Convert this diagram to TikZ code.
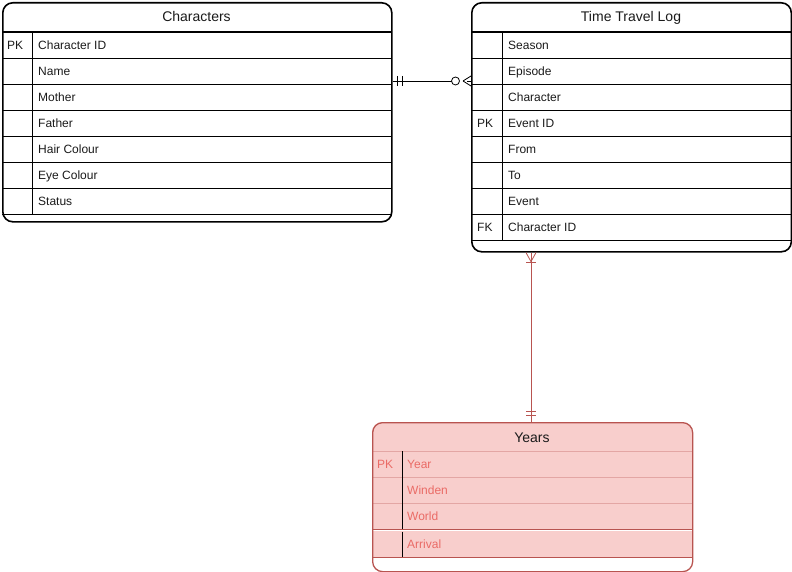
\documentclass[tikz,border=0pt]{standalone}
\usepackage{fontspec}
\setmainfont{Liberation Sans}
\usetikzlibrary{calc}
\definecolor{pinkfill}{HTML}{F8CECC}
\definecolor{redstroke}{HTML}{B85450}
\definecolor{redtext}{HTML}{EA6B66}
\definecolor{pinkline}{HTML}{E3A6A4}
\definecolor{ink}{HTML}{1A1A1A}
\tikzset{
  tableframe/.style={draw=black, line width=1.6pt, rounded corners=10pt, inner sep=0pt, anchor=north west},
  rowrule/.style={draw=black, line width=0.8pt},
  headrule/.style={draw=black, line width=1.3pt},
  title/.style={font=\fontsize{14}{16}\selectfont, text=ink, inner sep=0pt, text height=10pt, text depth=0pt},
  cell/.style={font=\fontsize{12}{14}\selectfont, text=ink, inner sep=0pt, anchor=west, text height=8.6pt, text depth=0pt},
  redcell/.style={cell, text=redtext},
  erline/.style={draw=black, line width=0.8pt},
  redline/.style={draw=redstroke, line width=0.8pt},
}
\begin{document}
\begin{tikzpicture}[x=1pt, y=-1pt]
\useasboundingbox (0,0) rectangle (792,572);

% ---------- Characters ----------
\node[tableframe, minimum width=389pt, minimum height=219pt] (chars) at (2,2) {};
\draw[headrule] (2,32) -- (391,32);
\foreach \y in {58,84,110,136,162,188,214} \draw[rowrule] (2,\y) -- (391,\y);
\draw[rowrule] (32,32) -- (32,214);
\node[title] (charsT) at (196.5,17) {Characters};
\node[cell] (c1k) at (7,45) {PK};
\node[cell] (c1) at (38,45) {Character ID};
\node[cell] (c2) at (38,71) {Name};
\node[cell] (c3) at (38,97) {Mother};
\node[cell] (c4) at (38,123) {Father};
\node[cell] (c5) at (38,149) {Hair Colour};
\node[cell] (c6) at (38,175) {Eye Colour};
\node[cell] (c7) at (38,201) {Status};

% ---------- Time Travel Log ----------
\node[tableframe, minimum width=319.5pt, minimum height=249pt] (ttl) at (471,2) {};
\draw[headrule] (471,32) -- (790.5,32);
\foreach \y in {58,84,110,136,162,188,214,240} \draw[rowrule] (471,\y) -- (790.5,\y);
\draw[rowrule] (502,32) -- (502,240);
\node[title] (ttlT) at (631,17) {Time Travel Log};
\node[cell] (t1) at (508,45) {Season};
\node[cell] (t2) at (508,71) {Episode};
\node[cell] (t3) at (508,97) {Character};
\node[cell] (t4k) at (477,123) {PK};
\node[cell] (t4) at (508,123) {Event ID};
\node[cell] (t5) at (508,149) {From};
\node[cell] (t6) at (508,175) {To};
\node[cell] (t7) at (508,201) {Event};
\node[cell] (t8k) at (477,227) {FK};
\node[cell] (t8) at (508,227) {Character ID};

% ---------- Years ----------
\begin{scope}
  \clip[rounded corners=10pt] (372,422) rectangle (692,571);
  \fill[white] (372,422) rectangle (692,571);
  \fill[pinkfill] (372,422) rectangle (692,529.8);
  \fill[pinkfill] (372,531) rectangle (692,557);
\end{scope}
\draw[pinkline, line width=1pt] (372,451) -- (692,451);
\foreach \y in {477,503} \draw[pinkline, line width=0.8pt] (372,\y) -- (692,\y);
\draw[redstroke, line width=1pt] (372,529.3) -- (692,529.3);
\draw[redstroke, line width=1pt] (372,557) -- (692,557);
\draw[black, line width=0.8pt] (402,451) -- (402,529);
\draw[black, line width=0.8pt] (402,531.5) -- (402,557);
\node[tableframe, draw=redstroke, line width=1.3pt, minimum width=320pt, minimum height=149pt] (years) at (372,422) {};
\node[title] (yearsT) at (532,437) {Years};
\node[redcell] (y1k) at (377,464) {PK};
\node[redcell] (y1) at (407,464) {Year};
\node[redcell] (y2) at (407,490) {Winden};
\node[redcell] (y3) at (407,516) {World};
\node[redcell] (y4) at (407,544) {Arrival};

% ---------- Characters (one) to Time Travel Log (zero or many) ----------
\coordinate (relY) at (0,81);
\coordinate (a0) at (chars.east |- relY);
\coordinate (a1) at (ttl.west |- relY);
\draw[erline] (a0) -- ($(a1)+(-12,0)$);
\draw[erline] ($(a1)+(-4,0)$) -- (a1);
\draw[erline] ($(a0)+(5,-5)$) -- ($(a0)+(5,5)$);
\draw[erline] ($(a0)+(10,-5)$) -- ($(a0)+(10,5)$);
\draw[erline, fill=white] ($(a1)+(-15.5,0)$) circle (4pt);
\draw[erline] ($(a1)+(-8,0)$) -- ($(a1)+(0,-5)$);
\draw[erline] ($(a1)+(-8,0)$) -- ($(a1)+(0,5)$);

% ---------- Time Travel Log (one or many) to Years (one) ----------
\coordinate (relX) at (531,0);
\coordinate (b0) at (ttl.south -| relX);
\coordinate (b1) at (years.north -| relX);
\draw[redline] (b0) -- (b1);
\draw[redline] ($(b0)+(-5,0)$) -- ($(b0)+(0,9)$) -- ($(b0)+(5,0)$);
\draw[redline] ($(b0)+(-5,9.5)$) -- ($(b0)+(5,9.5)$);
\draw[redline] ($(b1)+(-5,-10.5)$) -- ($(b1)+(5,-10.5)$);
\draw[redline] ($(b1)+(-5,-6.5)$) -- ($(b1)+(5,-6.5)$);
\end{tikzpicture}
\end{document}
